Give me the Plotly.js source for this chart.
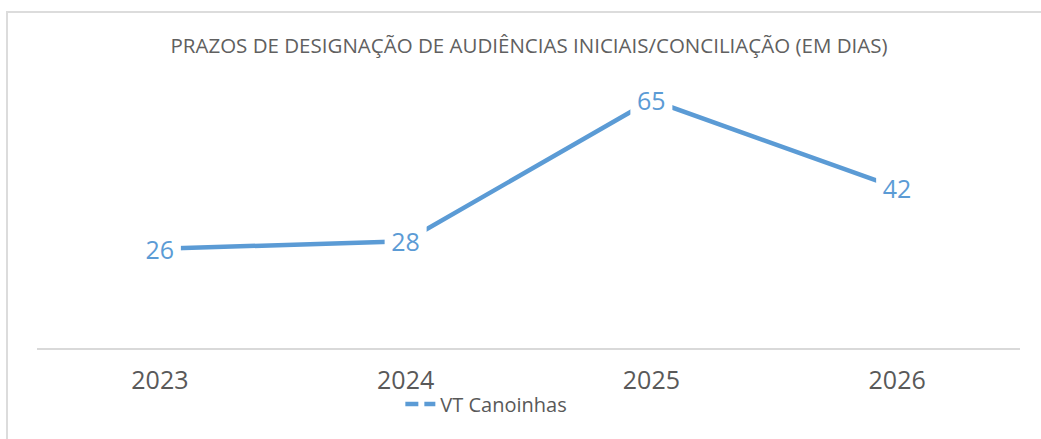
<!DOCTYPE html>
<html>
<head>
<meta charset="utf-8">
<script src="https://cdn.plot.ly/plotly-3.0.1.min.js"></script>
<style>
html,body{margin:0;padding:0;background:#fff;}
#frame{position:absolute;left:6px;top:11px;width:1100px;height:500px;border-top:2px solid #dcdcdc;border-left:2px solid #dcdcdc;pointer-events:none;}
#chart{position:absolute;left:0;top:0;width:1041px;height:439px;}
</style>
</head>
<body>
<div id="chart"></div>
<div id="frame"></div>
<script>
const years = ['2023', '2024', '2025', '2026'];
const days = [26, 28, 65, 42];
const seriesName = 'VT Canoinhas';
const chartTitle = 'PRAZOS DE DESIGNAÇÃO DE AUDIÊNCIAS INICIAIS/CONCILIAÇÃO (EM DIAS)';

const blue = '#5B9BD5';
const grey = '#595959';
const fontFam = '"Open Sans", "Noto Sans", sans-serif';

const traces = [
  {
    x: years, y: days, type: 'scatter', mode: 'lines+markers',
    line: {color: blue, width: 4.5},
    marker: {symbol: 'square', size: 42, color: '#ffffff', line: {width: 0}},
    showlegend: false, hoverinfo: 'skip', cliponaxis: false
  },
  {
    x: years, y: days, type: 'scatter', mode: 'text', yaxis: 'y2',
    text: days.map(String), textposition: 'middle center',
    textfont: {family: fontFam, size: 25, color: blue},
    showlegend: false, hoverinfo: 'skip', cliponaxis: false
  },
  {
    x: [null], y: [null], type: 'scatter', mode: 'lines', name: seriesName,
    line: {color: blue, width: 4.5, dash: '13px,6px'}, showlegend: true
  }
];

const layout = {
  width: 1041, height: 439,
  paper_bgcolor: '#ffffff', plot_bgcolor: '#ffffff',
  margin: {l: 37, r: 21, t: 81, b: 91},
  title: {text: chartTitle, font: {family: fontFam, size: 20.5, color: '#606060'}, x: 529/1041, xref: 'container', y: 1 - 46/439, yref: 'container', xanchor: 'center', yanchor: 'middle'},
  xaxis: {type: 'category', range: [-0.5, 3.5], showgrid: false, zeroline: false, showline: true, linecolor: '#d9d9d9', linewidth: 2,
          tickfont: {family: fontFam, size: 25, color: grey}, ticks: '', ticklabelstandoff: 9, fixedrange: true},
  yaxis: {range: [0, 70], showgrid: false, zeroline: false, showline: false, showticklabels: false, fixedrange: true},
  yaxis2: {range: [1, 71], overlaying: 'y', showgrid: false, zeroline: false, showline: false, showticklabels: false, fixedrange: true},
  legend: {orientation: 'h', x: 0.45 + 7/983, xanchor: 'center', y: -0.21, yanchor: 'middle', font: {family: fontFam, size: 20, color: grey}, bgcolor: 'rgba(0,0,0,0)'},
  showlegend: true
};

Plotly.newPlot('chart', traces, layout, {displayModeBar: false, staticPlot: true});
</script>
</body>
</html>
